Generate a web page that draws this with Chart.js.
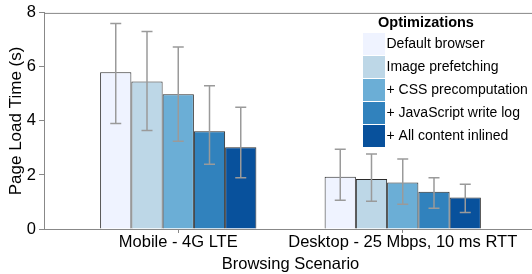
<!DOCTYPE html>
<html>
<head>
<meta charset="utf-8">
<script src="https://cdn.jsdelivr.net/npm/chart.js@4"></script>
<style>
  html, body { margin: 0; padding: 0; overflow: hidden; background: #fff; }
  #wrap { width: 545px; height: 274px; }
</style>
</head>
<body>
<div id="wrap"><canvas id="chart"></canvas></div>
<script>
const scenarios = ['Mobile - 4G LTE', 'Desktop - 25 Mbps, 10 ms RTT'];
const optimizations = ['Default browser', 'Image prefetching', '+ CSS precomputation', '+ JavaScript write log', '+ All content inlined'];
const colors = ['#eff3ff', '#bdd7e7', '#6baed6', '#3182bd', '#08519c'];

// mean page load time (s), one array per optimization: [mobile, desktop]
const defaultBrowser = [5.80, 1.93];
const imagePrefetch = [5.46, 1.85];
const cssPrecomp = [4.99, 1.72];
const jsWriteLog = [3.62, 1.38];
const allInlined = [3.03, 1.17];

// error bar ends
const errLow = [[3.91, 1.06], [3.65, 1.03], [3.25, 0.92], [2.40, 0.77], [1.90, 0.61]];
const errHigh = [[7.61, 2.95], [7.31, 2.78], [6.74, 2.59], [5.30, 1.90], [4.51, 1.66]];

const yTicks = [0, 2, 4, 6, 8];

const series = [defaultBrowser, imagePrefetch, cssPrecomp, jsWriteLog, allInlined];
const axisGray = '#888888';
const fontFamily = '"Liberation Sans", Arial, Helvetica, sans-serif';

const errorBars = {
  id: 'errorBars',
  afterDatasetsDraw(chart) {
    const ctx = chart.ctx;
    const y = chart.scales.y;
    ctx.save();
    ctx.strokeStyle = '#9a9a9a';
    ctx.lineWidth = 1.5;
    chart.data.datasets.forEach((ds, di) => {
      const meta = chart.getDatasetMeta(di);
      meta.data.forEach((bar, i) => {
        const top = y.getPixelForValue(errHigh[di][i]);
        const bot = y.getPixelForValue(errLow[di][i]);
        ctx.beginPath();
        ctx.moveTo(bar.x, top); ctx.lineTo(bar.x, bot);
        ctx.moveTo(bar.x - 5.5, top); ctx.lineTo(bar.x + 5.5, top);
        ctx.moveTo(bar.x - 5.5, bot); ctx.lineTo(bar.x + 5.5, bot);
        ctx.stroke();
      });
    });
    ctx.restore();
  }
};

const frameAndLegend = {
  id: 'frameAndLegend',
  afterDraw(chart) {
    const ctx = chart.ctx;
    const a = chart.chartArea;
    ctx.save();
    ctx.strokeStyle = axisGray;
    ctx.lineWidth = 1;
    ctx.beginPath();
    ctx.moveTo(a.left, a.top + 0.5); ctx.lineTo(a.right, a.top + 0.5);
    ctx.moveTo(a.right - 0.5, a.top); ctx.lineTo(a.right - 0.5, a.bottom);
    ctx.stroke();

    // legend
    ctx.fillStyle = '#000';
    ctx.font = 'bold 14.5px ' + fontFamily;
    ctx.textAlign = 'center';
    ctx.textBaseline = 'middle';
    ctx.fillText('Optimizations', 426, 22.5);
    ctx.font = '14px ' + fontFamily;
    ctx.textAlign = 'left';
    chart.data.datasets.forEach((ds, i) => {
      const top = 33 + i * 23;
      ctx.fillStyle = ds.backgroundColor;
      ctx.fillRect(363, top, 22, 22);
      ctx.fillStyle = '#000';
      ctx.fillText(ds.label, 386.5, top + 11.5);
    });
    ctx.restore();
  }
};

new Chart(document.getElementById('chart'), {
  type: 'bar',
  data: {
    datasets: series.map((vals, i) => ({
      label: optimizations[i],
      data: vals.map((v, j) => ({ x: j, y: v })),
      backgroundColor: colors[i],
      borderColor: '#2b2b2b',
      borderWidth: 1,
      barPercentage: 1,
      categoryPercentage: 0.696
    }))
  },
  options: {
    responsive: true,
    maintainAspectRatio: false,
    animation: false,
    layout: { padding: { top: 11, right: 8, left: 0, bottom: 0 } },
    plugins: {
      legend: { display: false },
      tooltip: { enabled: false }
    },
    scales: {
      x: {
        type: 'linear',
        offset: false,
        bounds: 'data',
        min: -0.598,
        max: 1.598,
        afterBuildTicks: (scale) => { scale.ticks = scenarios.map((s, i) => ({ value: i })); },
        afterFit: (scale) => { scale.height = 45; },
        ticks: {
          callback: (v) => scenarios[v],
          color: '#000',
          font: { family: fontFamily, size: 16.5 },
          padding: 0,
          maxRotation: 0,
          autoSkip: false
        },
        grid: { offset: false, drawOnChartArea: false, drawTicks: true, tickLength: 4, color: axisGray },
        border: { color: axisGray, width: 1 },
        title: {
          display: true,
          text: 'Browsing Scenario',
          color: '#000',
          font: { family: fontFamily, size: 16.5 },
          padding: { top: 0, bottom: 0 }
        }
      },
      y: {
        min: 0,
        max: 8,
        afterBuildTicks: (scale) => { scale.ticks = yTicks.map(v => ({ value: v })); },
        afterFit: (scale) => { scale.width = 44; },
        ticks: {
          color: '#000',
          font: { family: fontFamily, size: 16.5 },
          padding: 3
        },
        grid: { drawOnChartArea: false, drawTicks: true, tickLength: 5, color: axisGray },
        border: { color: axisGray, width: 1 },
        title: {
          display: true,
          text: 'Page Load Time (s)',
          color: '#000',
          font: { family: fontFamily, size: 17 },
          padding: { top: 6, bottom: 0 }
        }
      }
    }
  },
  plugins: [errorBars, frameAndLegend]
});
</script>
</body>
</html>
